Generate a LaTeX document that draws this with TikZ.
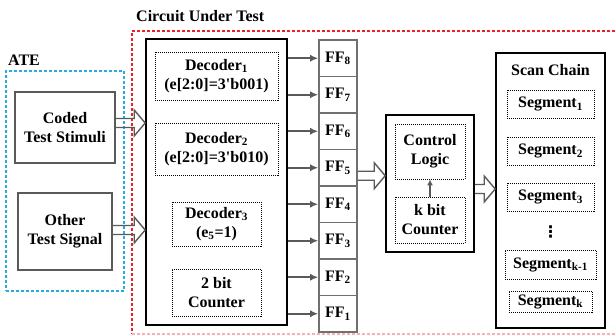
\documentclass[tikz,border=0pt]{standalone}
\usepackage{fontspec}
\setmainfont{Liberation Serif}
\newfontfamily\dotsfont{DejaVu Sans}
\usetikzlibrary{arrows.meta, calc}
\definecolor{atecyan}{HTML}{29ABE2}
\definecolor{cutred}{HTML}{E8202A}
\definecolor{wiregrey}{HTML}{5A5A5A}
\definecolor{ffgrey}{HTML}{707070}
\tikzset{
  lbl/.style={font=\fontsize{16}{19}\selectfont\bfseries, align=center, inner sep=0pt},
  solidbox/.style={draw, line width=1.6pt, lbl},
  srcbox/.style={draw=wiregrey, line width=1.6pt, lbl},
  dotbox/.style={draw, dash pattern=on 1pt off 1pt, line width=0.8pt, lbl},
  ffbox/.style={draw=ffgrey, line width=1.6pt, minimum width=38pt, minimum height=36.5pt, lbl},
  wire/.style={-{Latex[length=8pt, width=7pt]}, wiregrey, line width=1.6pt},
  hollow/.style={draw=wiregrey, line width=1.4pt, line join=miter,
    to path={let \p1=(\tikztostart), \p2=(\tikztotarget) in
      (\x1,{\y1+4.5pt}) -- ({\x2-11pt},{\y1+4.5pt}) -- ({\x2-11pt},{\y1+13pt})
      -- (\x2,\y1) -- ({\x2-11pt},{\y1-13pt}) -- ({\x2-11pt},{\y1-4.5pt})
      -- (\x1,{\y1-4.5pt})}},
  frame/.style={line width=1.6pt, dash pattern=on 3pt off 2pt},
}
\begin{document}
\begin{tikzpicture}[x=1pt, y=-1pt]
\useasboundingbox (0,0) rectangle (616,336);

% ATE side
\node[lbl, anchor=west] (atelbl) at (8,60) {ATE};
\node[draw=atecyan, frame, minimum width=118pt, minimum height=220pt] (ate) at (65,181) {};
\node[srcbox, minimum width=100pt, minimum height=71pt] (coded) at (65,127.5) {Coded\\Test Stimuli};
\node[srcbox, minimum width=94pt, minimum height=77pt] (other) at (65,231.5) {Other\\Test Signal};

% circuit under test
\node[lbl, anchor=west] (cutlbl) at (136,16) {Circuit Under Test};
\draw[cutred, frame] (640,31) -- (132,31) -- (132,334);
\draw[cutred!35, frame] (132,334) -- (640,334);

\node[solidbox, minimum width=141pt, minimum height=286pt] (dec) at (216.5,182) {};
\node[dotbox, minimum width=123pt, minimum height=48pt] (dec1) at (216.5,76) {Decoder\textsubscript{1}\\(e[2:0]=3\textquotesingle b001)};
\node[dotbox, minimum width=123pt, minimum height=52pt] (dec2) at (216.5,149) {Decoder\textsubscript{2}\\(e[2:0]=3\textquotesingle b010)};
\node[dotbox, minimum width=89pt, minimum height=44pt] (dec3) at (216.5,224) {Decoder\textsubscript{3}\\(e\textsubscript{5}=1)};
\node[dotbox, minimum width=89pt, minimum height=47pt] (cnt2) at (216.5,292.5) {2 bit\\Counter};

% flip-flops
\foreach \i in {1,...,8}
  \node[ffbox] (ff\i) at (338,{40+36.5*(8-\i)+18.25}) {FF\textsubscript{\i}};
\foreach \i in {1,...,8}
  \draw[wire] (dec.east |- ff\i) -- (ff\i.west);

% control
\node[solidbox, minimum width=88pt, minimum height=137pt] (ctrl) at (430,183.5) {};
\node[dotbox, minimum width=70pt, minimum height=55pt] (logic) at (430,151.5) {Control\\Logic};
\node[dotbox, minimum width=70pt, minimum height=46pt] (kcnt) at (430,220) {k bit\\Counter};
\draw[-{Latex[length=6pt, width=6pt]}, wiregrey, line width=1.4pt] (kcnt.north) -- (logic.south);

% scan chain
\node[solidbox, minimum width=109pt, minimum height=275pt] (scan) at (550.5,190.5) {};
\node[lbl] (scanlbl) at (550.5,70) {Scan Chain};
\node[dotbox, minimum width=87pt, minimum height=28pt] (seg1) at (550.5,104) {Segment\textsubscript{1}};
\node[dotbox, minimum width=87pt, minimum height=28pt] (seg2) at (550.5,151) {Segment\textsubscript{2}};
\node[dotbox, minimum width=87pt, minimum height=28pt] (seg3) at (550.5,197) {Segment\textsubscript{3}};
\node[lbl, font=\dotsfont\bfseries\fontsize{16}{19}\selectfont] (vdots) at (550.5,232) {⋮};
\node[dotbox, minimum width=91pt, minimum height=29pt] (segk1) at (550.5,264.5) {Segment\textsubscript{k-1}};
\node[dotbox, minimum width=83pt, minimum height=21pt] (segk) at (550.5,301.5) {Segment\textsubscript{k}};

% wide arrows
\draw[hollow] ([yshift=4.5pt]coded.east) to ([yshift=4.5pt]coded.east -| dec.west);
\draw[hollow] ([yshift=1.5pt]other.east) to ([yshift=1.5pt]other.east -| dec.west);
\draw[hollow] ([yshift=-8pt]ff5.east) to ([yshift=-8pt]ff5.east -| ctrl.west);
\draw[hollow] ([yshift=-5.5pt]ctrl.east) to ([yshift=-5.5pt]ctrl.east -| scan.west);
\end{tikzpicture}
\end{document}
